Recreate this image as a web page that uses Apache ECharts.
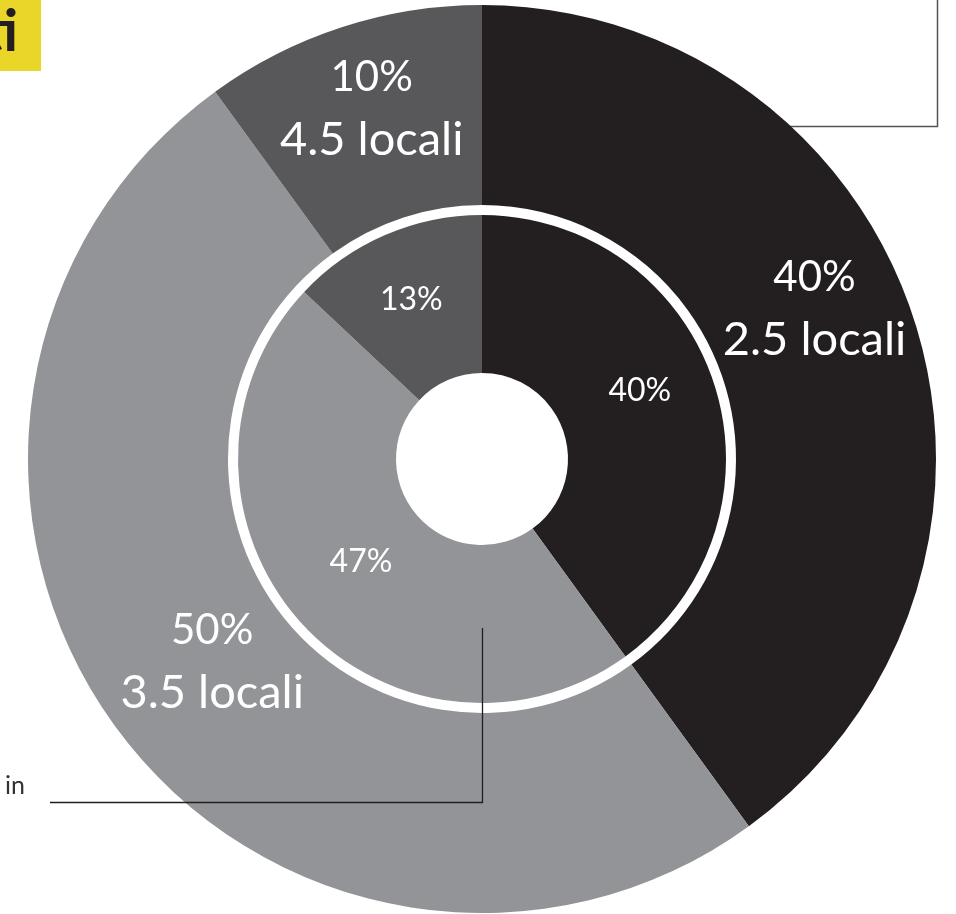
<!DOCTYPE html>
<html>
<head>
<meta charset="utf-8">
<script src="https://cdn.jsdelivr.net/npm/echarts@6/dist/echarts.min.js"></script>
<style>
html,body{margin:0;padding:0;background:#fff;}
#c{width:956px;height:914px;}
</style>
</head>
<body>
<div id="c"></div>
<script>
// ---- data ----
const categories = ['A', 'B', 'C'];
const outerValues = [40, 50, 10];
const outerLocali = ['2.5', '3.5', '4.5'];
const innerValues = [40, 47, 13];
const colors = ['#231f20', '#939498', '#58585a'];

// ---- layout / style (kept apart from data) ----
const outerLabelOffsets = [[-7, -40], [19, -7], [0, -11]];
const innerLabelOffsets = [[-2, -16], [5, -8], [-4, -5]];
const FONT = 'Lato, "Open Sans", sans-serif';

const outerData = categories.map((c, i) => ({
  name: c,
  value: outerValues[i],
  itemStyle: { color: colors[i] },
  label: { offset: outerLabelOffsets[i] },
  locali: outerLocali[i]
}));
const innerData = categories.map((c, i) => ({
  name: c,
  value: innerValues[i],
  itemStyle: { color: colors[i] },
  label: { offset: innerLabelOffsets[i] }
}));

const chart = echarts.init(document.getElementById('c'), null, { renderer: 'canvas' });
chart.setOption({
  animation: false,
  backgroundColor: '#ffffff',
  series: [
    {
      type: 'pie',
      center: [482, 459],
      radius: [254, 454],
      startAngle: 90,
      clockwise: true,
      avoidLabelOverlap: false,
      silent: true,
      z: 2,
      data: outerData,
      label: {
        show: true,
        position: 'inside',
        color: '#ffffff',
        fontFamily: FONT,
        formatter: p => '{p|' + p.value + '%}\n{l|' + p.data.locali + ' locali}',
        rich: {
          p: { fontSize: 42, fontFamily: FONT, color: '#fff', lineHeight: 62, align: 'center' },
          l: { fontSize: 47, fontFamily: FONT, color: '#fff', lineHeight: 62, align: 'center' }
        }
      },
      labelLine: { show: false },
      emphasis: { disabled: true }
    },
    {
      type: 'pie',
      center: [482, 459],
      radius: [86, 244],
      startAngle: 90,
      clockwise: true,
      avoidLabelOverlap: false,
      silent: true,
      z: 2,
      data: innerData,
      label: {
        show: true,
        position: 'inside',
        color: '#ffffff',
        fontFamily: FONT,
        fontSize: 32,
        formatter: p => p.value + '%'
      },
      labelLine: { show: false },
      emphasis: { disabled: true }
    }
  ],
  graphic: [
    { type: 'rect', shape: { x: 0, y: 0, width: 41, height: 71 }, style: { fill: '#e9d629' }, z: 1 },
    { type: 'text', x: 18, y: 61, z: 3, style: { text: 'ti', fill: '#231f20', font: 'bold 58px ' + FONT, textAlign: 'right', textVerticalAlign: 'bottom' } },
    { type: 'polyline', z: 1, shape: { points: [[937.5, 0], [937.5, 126.5], [780, 126.5]] }, style: { stroke: '#555', lineWidth: 1.5, fill: null } },
    { type: 'polyline', z: 10, shape: { points: [[50, 802.5], [482.5, 802.5], [482.5, 628]] }, style: { stroke: '#231f20', lineWidth: 1.3, fill: null } },
    { type: 'text', x: 5, y: 786, z: 3, style: { text: 'in', fill: '#333', font: '25px ' + FONT, textVerticalAlign: 'middle' } }
  ]
});
</script>
</body>
</html>
